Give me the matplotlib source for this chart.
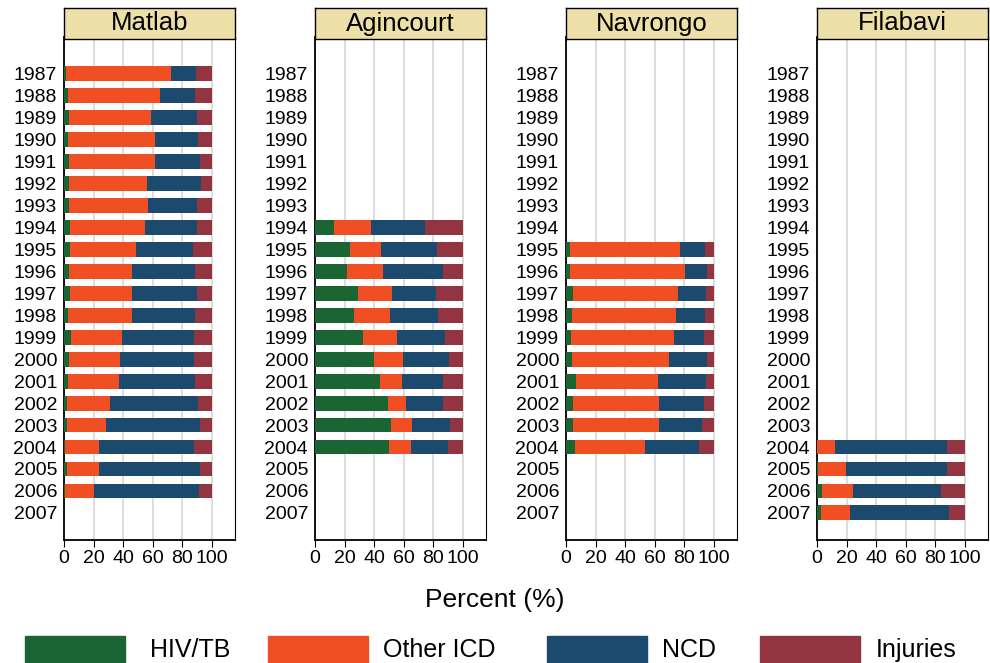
import matplotlib.pyplot as plt
import matplotlib.patches as mpatches
import numpy as np

years = list(range(1987, 2008))
sites = ["Matlab", "Agincourt", "Navrongo", "Filabavi"]
causes = ["HIV/TB", "Other ICD", "NCD", "Injuries"]
colors = ["#1b6535", "#f04e23", "#1b4a6e", "#923540"]

# cumulative boundaries per year: end of HIV/TB, end of Other ICD, end of NCD (rest = injuries)
matlab_years = list(range(1987, 2007))
matlab_cum = [
    (1.1, 72.3, 89.0), (2.5, 64.9, 88.5), (3.4, 59.0, 89.9), (2.5, 61.5, 90.3),
    (3.4, 61.5, 91.7), (3.4, 56.1, 92.3), (3.2, 57.0, 90.1), (3.8, 54.5, 90.1),
    (3.8, 48.9, 87.4), (3.6, 45.9, 88.5), (3.8, 46.2, 89.9), (2.9, 46.2, 88.5),
    (4.5, 39.2, 87.6), (3.4, 37.6, 87.8), (2.7, 37.2, 88.5), (2.0, 31.1, 90.5),
    (1.8, 28.4, 91.9), (0.5, 23.4, 87.6), (1.8, 23.6, 92.1), (0.7, 20.0, 91.2),
]
agincourt_years = list(range(1994, 2005))
agincourt_cum = [
    (12.6, 37.8, 74.5), (23.4, 44.4, 82.2), (21.8, 46.2, 86.3), (29.1, 52.3, 82.0),
    (26.1, 50.5, 83.3), (32.7, 55.6, 88.1), (39.9, 59.7, 90.5), (43.9, 59.0, 86.3),
    (49.3, 61.3, 86.7), (51.6, 65.5, 91.0), (50.2, 64.6, 90.1),
]
navrongo_years = list(range(1995, 2005))
navrongo_cum = [
    (2.7, 77.3, 93.9), (2.5, 80.6, 95.5), (4.5, 75.5, 94.8), (4.3, 74.1, 94.1),
    (3.6, 73.0, 93.5), (4.1, 69.4, 95.5), (6.5, 62.2, 94.4), (5.0, 63.1, 93.5),
    (4.7, 62.6, 91.7), (6.1, 53.4, 90.1),
]
filabavi_years = list(range(2004, 2008))
filabavi_cum = [
    (0.0, 12.4, 87.6), (0.5, 19.6, 87.8), (3.4, 24.1, 83.8), (2.5, 22.1, 89.0),
]
site_data = [
    (matlab_years, matlab_cum), (agincourt_years, agincourt_cum),
    (navrongo_years, navrongo_cum), (filabavi_years, filabavi_cum),
]

W, H = 990, 663
fig = plt.figure(figsize=(W / 100, H / 100), dpi=100)
font = "Liberation Sans"
lefts = [64, 315, 566, 817]
pw = 171

for left, site, (yrs, cum) in zip(lefts, sites, site_data):
    ax = fig.add_axes([left / W, (H - 540) / H, pw / W, (540 - 37) / H])
    cum = np.array(cum)
    bounds = np.column_stack([np.zeros(len(cum)), cum, np.full(len(cum), 100.0)])
    ypos = [y - 1987 for y in yrs]
    for k in range(4):
        ax.barh(ypos, bounds[:, k + 1] - bounds[:, k], left=bounds[:, k],
                height=0.68, color=colors[k], zorder=3)
    ax.set_xlim(0, 115.5)
    ax.set_ylim(20 + 1.23, -1.65)
    ax.set_yticks(range(len(years)))
    ax.set_yticklabels([str(y) for y in years], fontsize=14, family=font)
    ax.set_xticks([0, 20, 40, 60, 80, 100])
    ax.set_xticklabels(["0", "20", "40", "60", "80", "100"], fontsize=14, family=font)
    ax.tick_params(axis="y", length=0, pad=5)
    ax.tick_params(axis="x", length=5, pad=2)
    ax.grid(axis="x", color="#dddddd", lw=1.5, zorder=0)
    for s in ["left", "bottom"]:
        ax.spines[s].set_linewidth(1.3)
    ax.spines["right"].set_linewidth(0.8)
    ax.spines["top"].set_linewidth(0.8)
    # strip title
    sax = fig.add_axes([left / W, (H - 39) / H, pw / W, 31 / H])
    sax.set_xticks([])
    sax.set_yticks([])
    sax.set_facecolor("#ecdfa8")
    for s in sax.spines.values():
        s.set_linewidth(1.0)
    sax.text(0.5, 0.5, site, ha="center", va="center", fontsize=18.5, family=font)

fig.text(495 / W, 1 - 600 / H, "Percent (%)", ha="center", va="center",
         fontsize=19, family=font)

leg_x = [25, 268, 547, 760]
txt_x = [150, 383, 662, 876]
for px, tx, lab, c in zip(leg_x, txt_x, causes, colors):
    fig.patches.append(mpatches.Rectangle((px / W, 0), 100 / W, 27 / H,
                                          transform=fig.transFigure, color=c))
    fig.text(tx / W, 1 - 650 / H, lab, ha="left", va="center", fontsize=18, family=font)

fig.savefig("out.png", dpi=100)
